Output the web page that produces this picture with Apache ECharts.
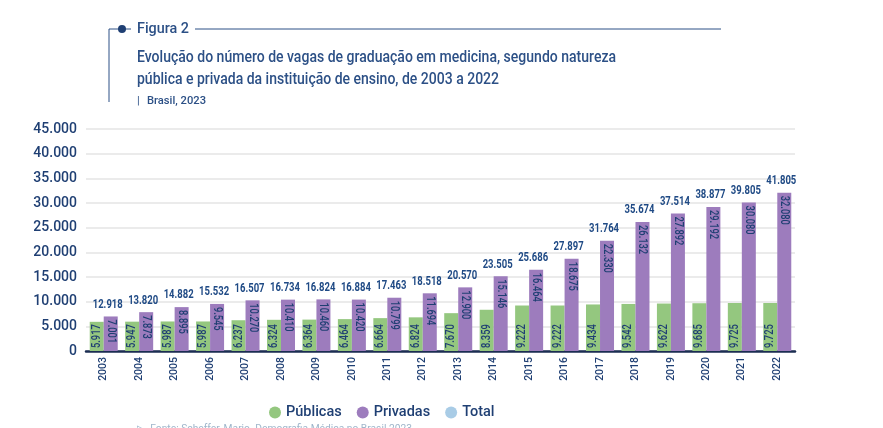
<!DOCTYPE html>
<html><head><meta charset="utf-8">
<script src="https://cdn.jsdelivr.net/npm/echarts@6/dist/echarts.min.js"></script>
<style>html,body{margin:0;padding:0;background:#fff}#c{width:883px;height:428px}</style>
</head><body><div id="c"></div>
<script>
var years = ['2003','2004','2005','2006','2007','2008','2009','2010','2011','2012','2013','2014','2015','2016','2017','2018','2019','2020','2021','2022'];
var publicas = [5917,5947,5987,5987,6237,6324,6364,6464,6664,6824,7670,8359,9222,9222,9434,9542,9622,9685,9725,9725];
var privadas = [7001,7873,8895,9545,10270,10410,10460,10420,10799,11694,12900,15146,16464,18675,22330,26132,27892,29192,30080,32080];
var totais = [12918,13820,14882,15532,16507,16734,16824,16884,17463,18518,20570,23505,25686,27897,31764,35674,37514,38877,39805,41805];
var yTicks = [0,5000,10000,15000,20000,25000,30000,35000,40000,45000];

var FONT = "Roboto, 'Noto Sans', sans-serif";
var NAVY = '#1f3f73';
var TITLE = '#2c5086';
function fmt(v){ return String(v).replace(/\B(?=(\d{3})+(?!\d))/g, '.'); }

var mctx = document.createElement('canvas').getContext('2d');
function fitScale(text, font, w){ mctx.font = font; return w / mctx.measureText(text).width; }

var TOTAL_FONT = 'bold 13.5px ' + FONT;
var TOTAL_SX = fitScale('41.805', TOTAL_FONT, 30);
var IN_FONT = '500 12px ' + FONT;
var IN_SX = fitScale('32.080', IN_FONT, 29);
var BARW = 14;

var chart = echarts.init(document.getElementById('c'));
var totalData = years.map(function(y,i){ return [i, totais[i], privadas[i]]; });
var innerData = years.map(function(y,i){ return [i, publicas[i], privadas[i]]; });

function titleText(x, y, text, font, w){
  return {type: 'text', x: x, y: y, scaleX: fitScale(text, font, w),
    style: {text: text, font: font, fill: TITLE, textVerticalAlign: 'middle'}};
}

chart.setOption({
  animation: false,
  textStyle: {fontFamily: FONT},
  grid: {left: 86, right: 88, top: 129, bottom: 77, containLabel: false},
  legend: {
    left: 264, top: 400, itemWidth: 12, itemHeight: 12, itemGap: 15, icon: 'circle',
    textStyle: {color: NAVY, fontSize: 14.5, fontWeight: 500, fontFamily: FONT},
    data: [
      {name: 'Públicas'},
      {name: 'Privadas'},
      {name: 'Total', itemStyle: {color: '#a9cce6'}}
    ]
  },
  xAxis: {
    type: 'category', data: years,
    axisLine: {lineStyle: {color: '#1b2d52', width: 2.5}},
    axisTick: {show: false},
    axisLabel: {rotate: 90, color: NAVY, fontSize: 10.5, fontWeight: 500, margin: 6, fontFamily: FONT}
  },
  yAxis: {
    type: 'value', min: yTicks[0], max: yTicks[yTicks.length-1], interval: 5000,
    axisLine: {show: false}, axisTick: {show: false},
    axisLabel: {color: NAVY, fontSize: 14, fontWeight: 500, margin: 9, formatter: function(v){ return fmt(v); }, fontFamily: FONT},
    splitLine: {lineStyle: {color: '#e4e4e4', width: 1.5}}
  },
  series: [
    {name: 'Públicas', type: 'bar', data: publicas, barWidth: BARW, barGap: '0%', itemStyle: {color: '#94c77f'}},
    {name: 'Privadas', type: 'bar', data: privadas, barWidth: BARW, itemStyle: {color: '#9d7cbd'}},
    {
      name: 'Total', type: 'custom', data: totalData, itemStyle: {color: '#a9cce6'}, z: 5,
      encode: {x: 0, y: 1},
      renderItem: function(params, api){
        var p = api.coord([api.value(0), api.value(2)]);
        return {type: 'text', x: p[0] + 4, y: p[1] - 5, scaleX: TOTAL_SX,
          style: {text: fmt(api.value(1)), textAlign: 'center', textVerticalAlign: 'bottom',
            fill: '#1f4a85', font: TOTAL_FONT}};
      }
    },
    {
      name: 'rotulos', type: 'custom', data: innerData, z: 6, silent: true,
      encode: {x: 0, y: 1},
      renderItem: function(params, api){
        var i = api.value(0);
        var b = api.coord([i, 0]);
        var t = api.coord([i, api.value(2)]);
        return {type: 'group', children: [
          {type: 'text', x: b[0] - BARW/2, y: b[1] - 3, rotation: Math.PI/2, scaleX: IN_SX,
            style: {text: fmt(api.value(1)), textAlign: 'left', textVerticalAlign: 'middle', fill: NAVY, font: IN_FONT}},
          {type: 'text', x: t[0] + BARW/2, y: t[1] + 3, rotation: -Math.PI/2, scaleX: IN_SX,
            style: {text: fmt(api.value(2)), textAlign: 'left', textVerticalAlign: 'middle', fill: NAVY, font: IN_FONT}}
        ]};
      }
    }
  ],
  graphic: [
    {type: 'line', shape: {x1: 109, y1: 29, x2: 109, y2: 102}, style: {stroke: TITLE, lineWidth: 1}},
    {type: 'line', shape: {x1: 109, y1: 29, x2: 131, y2: 29}, style: {stroke: TITLE, lineWidth: 1}},
    {type: 'circle', shape: {cx: 122, cy: 29, r: 4}, style: {fill: '#1f3f73'}},
    titleText(137, 29, 'Figura 2', '500 15px ' + FONT, 52),
    {type: 'line', shape: {x1: 195, y1: 29, x2: 721, y2: 29}, style: {stroke: TITLE, lineWidth: 1}},
    titleText(137, 58, 'Evolução do número de vagas de graduação em medicina, segundo natureza', '500 16px ' + FONT, 479),
    titleText(137, 80, 'pública e privada da instituição de ensino, de 2003 a 2022', '500 16px ' + FONT, 362),
    {type: 'text', x: 137, y: 101, style: {text: '|', font: '11px ' + FONT, fill: TITLE, textVerticalAlign: 'middle'}},
    titleText(147, 101, 'Brasil, 2023', '500 11px ' + FONT, 59),
    {type: 'text', x: 137, y: 424, scaleX: fitScale('▷  Fonte: Scheffer, Mario. Demografia Médica no Brasil 2023', '10px ' + FONT, 275),
      style: {text: '▷  Fonte: Scheffer, Mario. Demografia Médica no Brasil 2023', font: '10px ' + FONT, fill: '#9fb6cb', textVerticalAlign: 'top'}}
  ]
});
</script></body></html>
